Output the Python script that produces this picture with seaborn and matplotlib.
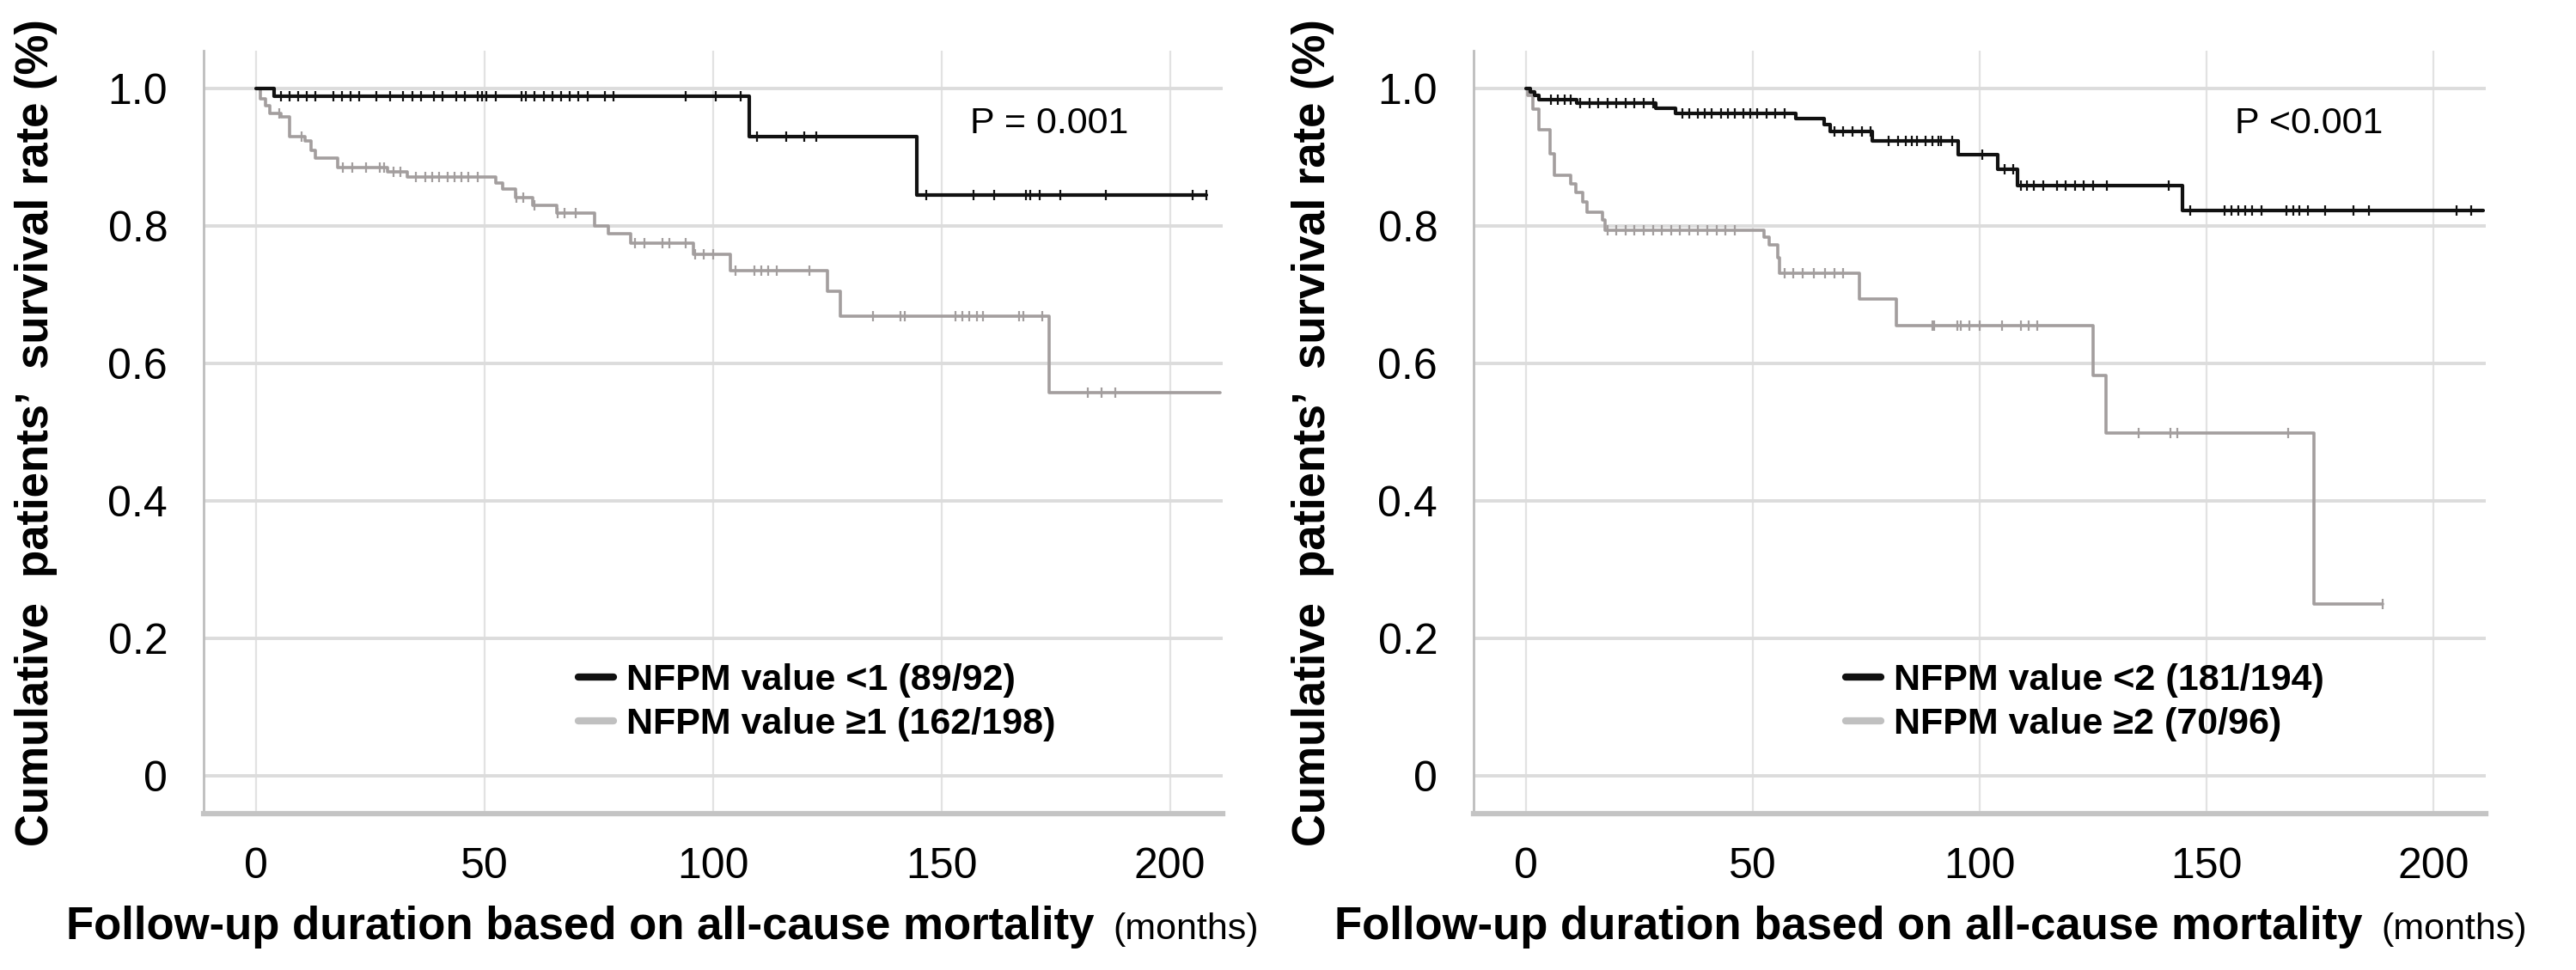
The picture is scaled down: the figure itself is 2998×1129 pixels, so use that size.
import numpy as np
import pandas as pd
import seaborn as sns
import matplotlib.pyplot as plt
from matplotlib.lines import Line2D

# Kaplan-Meier curves (step starts / survival after the step)
# left panel: NFPM value <1 vs >=1
lo1_t = [0, 4, 108, 144.5]
lo1_s = [1.0, 0.988, 0.93, 0.845]
lo1_end = 208
lo1_cens = [5.4, 7.3, 9.2, 11.1, 13, 16.9, 18.8, 20.7, 22.6, 26.4, 29.3, 32.2, 34.2, 36.1,
            38.9, 40.8, 43.8, 45.6, 48.5, 49.4, 50.4, 52.4, 58.1, 59, 61, 62.9, 64.8, 66.7,
            68.6, 70.5, 72.5, 76.3, 78.2, 94, 100.5, 106, 109.6, 116, 120, 122.5,
            146.6, 157, 161.5, 168.4, 169.4, 171.4, 176, 186, 205, 208]

hi1_t = [0, 1, 2, 3, 5.4, 7.3, 10.7, 12, 13, 17.9, 28.8, 33, 52.4, 54, 56.7, 60.5, 65.8,
         74, 77, 82, 95.7, 103.8, 125, 127.8, 173.5]
hi1_s = [1.0, 0.985, 0.975, 0.964, 0.959, 0.93, 0.923, 0.91, 0.899, 0.885, 0.878, 0.871,
         0.862, 0.853, 0.841, 0.83, 0.818, 0.80, 0.789, 0.775, 0.758, 0.735, 0.705, 0.668, 0.558]
hi1_end = 211
hi1_cens = [5, 10, 19, 21, 24, 27, 28, 30, 31.5, 35, 37, 38.5, 40, 42, 43.5, 45, 46.5, 48.5,
            57, 58.5, 61, 66, 67.5, 70, 83, 85, 89, 90.5, 94, 96, 98, 100, 105, 109, 110.5,
            112, 114, 121, 135, 141, 142, 153, 154.6, 156, 157.7, 159, 167, 168, 172,
            182, 185, 188]

# right panel: NFPM value <2 vs >=2
lo2_t = [0, 1.1, 2, 3, 11.3, 28.7, 33, 59.5, 65.8, 67, 76.4, 95.3, 104, 108.3, 144.6]
lo2_s = [1.0, 0.995, 0.99, 0.984, 0.978, 0.971, 0.964, 0.956, 0.947, 0.937, 0.923, 0.904,
         0.882, 0.859, 0.822]
lo2_end = 211
lo2_cens = [5.5, 7, 8.5, 10, 12, 14, 16, 18, 20, 22, 24, 26, 28, 34.5, 36, 38, 39.5, 41, 43,
            44.5, 46, 48, 49.5, 51, 53, 55, 57, 68, 70, 72, 74, 76, 80, 82, 85, 88, 91, 94,
            83.8, 86.2, 89.6, 91.5, 100.6, 105.5, 107.4, 109, 110.5, 112, 114, 117, 119,
            121, 123, 125, 128, 141.6, 146.3, 154, 155.5, 157, 158.5, 160, 162, 167.5,
            169, 170.5, 172.4, 176, 182.4, 185.8, 205, 208.3]

hi2_t = [0, 0.5, 1.5, 3, 5.3, 6.4, 10, 11, 12.5, 13.6, 17, 17.5, 52.5, 53.7, 55.6, 56,
         73.5, 81.7, 125, 127.8, 173.7]
hi2_s = [1.0, 0.99, 0.97, 0.94, 0.905, 0.873, 0.861, 0.849, 0.835, 0.82, 0.808, 0.794,
         0.783, 0.772, 0.753, 0.731, 0.694, 0.655, 0.582, 0.499, 0.25]
hi2_end = 188.7
hi2_cens = [18, 20, 22, 24, 26, 28, 30, 32, 34, 36, 38, 40, 42, 44, 46, 57, 59, 61, 63.5,
            66, 68, 70, 90, 95, 89.6, 95.8, 97.7, 100, 105, 109, 110.8, 112.7,
            135, 142, 143.5, 168, 188.7]

labels1 = ['NFPM value <1 (89/92)', 'NFPM value \u22651 (162/198)']
labels2 = ['NFPM value <2 (181/194)', 'NFPM value \u22652 (70/96)']
pvals = ['P = 0.001', 'P <0.001']

xticks = [0, 50, 100, 150, 200]
yticks = [0, 0.2, 0.4, 0.6, 0.8, 1.0]
ytick_labels = ['0', '0.2', '0.4', '0.6', '0.8', '1.0']

BLACK = '#111111'
GRAY = '#a39e9e'
GRAY_LEG = '#c0c0c0'

sns.set_theme(style='white')
plt.rcParams['font.family'] = ['Liberation Sans', 'DejaVu Sans']
plt.rcParams['text.color'] = 'black'
plt.rcParams['xtick.color'] = 'black'
plt.rcParams['ytick.color'] = 'black'


def km(ax, t, s, t_end, cens, color, lw):
    df = pd.DataFrame({'t': list(t) + [t_end], 's': list(s) + [s[-1]]})
    sns.lineplot(data=df, x='t', y='s', ax=ax, color=color, lw=lw,
                 drawstyle='steps-post', estimator=None, sort=False)
    cens = np.array(cens)
    idx = np.searchsorted(np.array(t), cens, side='right') - 1
    ax.plot(cens, np.array(s)[idx], ls='none', marker='|', ms=9, mew=1.6, color=color)


def style(ax):
    ax.set_xlim(-11.5, 211.5)
    ax.set_ylim(-0.055, 1.055)
    ax.set_xticks(xticks)
    ax.set_yticks(yticks)
    ax.set_yticklabels(ytick_labels)
    ax.tick_params(axis='y', labelsize=36, pad=30, length=0, labelcolor='black')
    ax.tick_params(axis='x', labelsize=36, pad=28, length=0, labelcolor='black')
    ax.yaxis.grid(True, color='#dcdcdc', lw=2.8)
    ax.xaxis.grid(True, color='#e2e2e2', lw=1.6)
    ax.set_axisbelow(True)
    for sp in ['top', 'right']:
        ax.spines[sp].set_visible(False)
    ax.spines['left'].set_color('#bdbdbd')
    ax.spines['left'].set_linewidth(2)
    ax.spines['bottom'].set_color('#c4c4c4')
    ax.spines['bottom'].set_linewidth(4.5)
    ax.set_xlabel('')
    ax.set_ylabel('')


fig = plt.figure(figsize=(29.98, 11.29), dpi=100)
ax1 = fig.add_axes([0.079, 0.161, 0.3956, 0.787])
ax2 = fig.add_axes([0.572, 0.161, 0.393, 0.787])

km(ax1, hi1_t, hi1_s, hi1_end, hi1_cens, GRAY, 2.6)
km(ax1, lo1_t, lo1_s, lo1_end, lo1_cens, BLACK, 3.0)
km(ax2, hi2_t, hi2_s, hi2_end, hi2_cens, GRAY, 2.6)
km(ax2, lo2_t, lo2_s, lo2_end, lo2_cens, BLACK, 3.0)

for ax, labs, p in [(ax1, labels1, pvals[0]), (ax2, labels2, pvals[1])]:
    style(ax)
    handles = [Line2D([0], [0], color=BLACK, lw=6), Line2D([0], [0], color=GRAY_LEG, lw=6)]
    ax.legend(handles, labs, loc='center left', bbox_to_anchor=(0.335, 0.146),
              frameon=False, handlelength=0.95, handletextpad=0.35, labelspacing=0.25,
              prop={'size': 31, 'weight': 'bold'}, labelcolor='black')
    ax.text(0.752, 0.904, p, transform=ax.transAxes, fontsize=31, ha='left', va='center',
            color='black')

ylab = 'Cumulative  patients\u2019  survival rate (%)'
fig.text(42 / 2998, 1 - 504 / 1129, ylab, rotation=90, ha='center', va='center',
         fontsize=38, fontweight='bold', color='black')
fig.text(1528 / 2998, 1 - 504 / 1129, ylab, rotation=90, ha='center', va='center',
         fontsize=38, fontweight='bold', color='black')

# x labels: bold main part followed by a smaller "(months)"
fig.canvas.draw()
renderer = fig.canvas.get_renderer()
for x0 in [77, 1553]:
    t1 = fig.text(x0 / 2998, 0.032, 'Follow-up duration based on all-cause mortality',
                  fontsize=38, fontweight='bold', ha='left', va='baseline', color='black')
    bb = t1.get_window_extent(renderer)
    fig.text((bb.x1 + 22) / 2998, 0.032, '(months)', fontsize=31, ha='left', va='baseline',
             color='black')

fig.savefig('out.png', dpi=100, facecolor='white')
